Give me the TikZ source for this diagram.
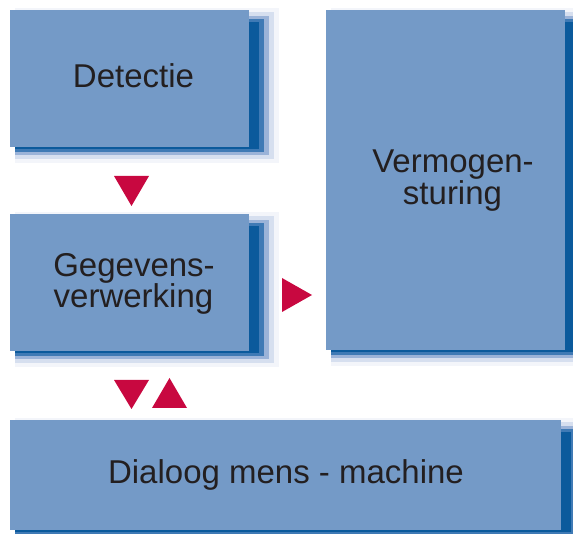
\documentclass[tikz,border=0pt]{standalone}
\usepackage{fontspec}
\setmainfont{Liberation Sans}
\definecolor{boxfill}{RGB}{116,154,199}
\definecolor{shA}{RGB}{11,90,156}
\definecolor{shB}{RGB}{63,122,181}
\definecolor{shC}{RGB}{155,179,216}
\definecolor{shD}{RGB}{214,223,239}
\definecolor{shE}{RGB}{243,245,250}
\definecolor{tri}{RGB}{200,8,64}
\definecolor{txt}{RGB}{35,31,32}
\newcommand\mybox[5]{% name, x1, y1, x2, y2 (px, y down)
  \fill[shE] (#2+5pt,-#3pt+2pt) rectangle (#4pt+30pt,-#5pt-16pt);
  \fill[shD] (#2+5pt,-#3pt-2pt) rectangle (#4pt+25pt,-#5pt-12pt);
  \fill[shC] (#2+5pt,-#3pt-6pt) rectangle (#4pt+20pt,-#5pt-8pt);
  \fill[shB] (#2+5pt,-#3pt-9pt) rectangle (#4pt+15pt,-#5pt-5pt);
  \fill[shA] (#2+5pt,-#3pt-12pt) rectangle (#4pt+10pt,-#5pt-2pt);
  \node[boxstyle, minimum width=#4pt-#2pt, minimum height=#5pt-#3pt] (#1) at ({(#2pt+#4pt)/2},{-(#3pt+#5pt)/2}) {};
}
\tikzset{
  boxstyle/.style={fill=boxfill, draw=none, inner sep=0pt, outer sep=0pt, rectangle},
  lbl/.style={text=txt, font=\fontsize{33}{33}\selectfont, anchor=base, inner sep=0pt},
  trifill/.style={fill=tri}
}
\begin{document}
\begin{tikzpicture}[x=1pt,y=1pt]
\useasboundingbox (0,0) rectangle (573,-534);
\mybox{det}{10}{10}{249}{147}
\mybox{geg}{10}{214}{249}{351}
\mybox{verm}{326}{10}{565}{350}
\mybox{dia}{10}{420}{561}{530}
\node[lbl] (tdet) at (133.5,-88) {Detectie};
\node[lbl] (tgeg1) at (134,-277) {Gegevens-};
\node[lbl] (tgeg2) at (133.5,-308) {verwerking};
\node[lbl] (tverm1) at (453,-173) {Vermogen-};
\node[lbl] (tverm2) at (452.5,-205) {sturing};
\node[lbl] (tdia) at (286,-483) {Dialoog mens - machine};
\fill[trifill] (114,-176) -- (149,-176) -- (131.5,-206) -- cycle;
\fill[trifill] (114,-380) -- (149,-380) -- (131.5,-409) -- cycle;
\fill[trifill] (152,-408) -- (187,-408) -- (169.5,-378) -- cycle;
\fill[trifill] (282,-278) -- (282,-312) -- (312,-295) -- cycle;
\end{tikzpicture}
\end{document}
